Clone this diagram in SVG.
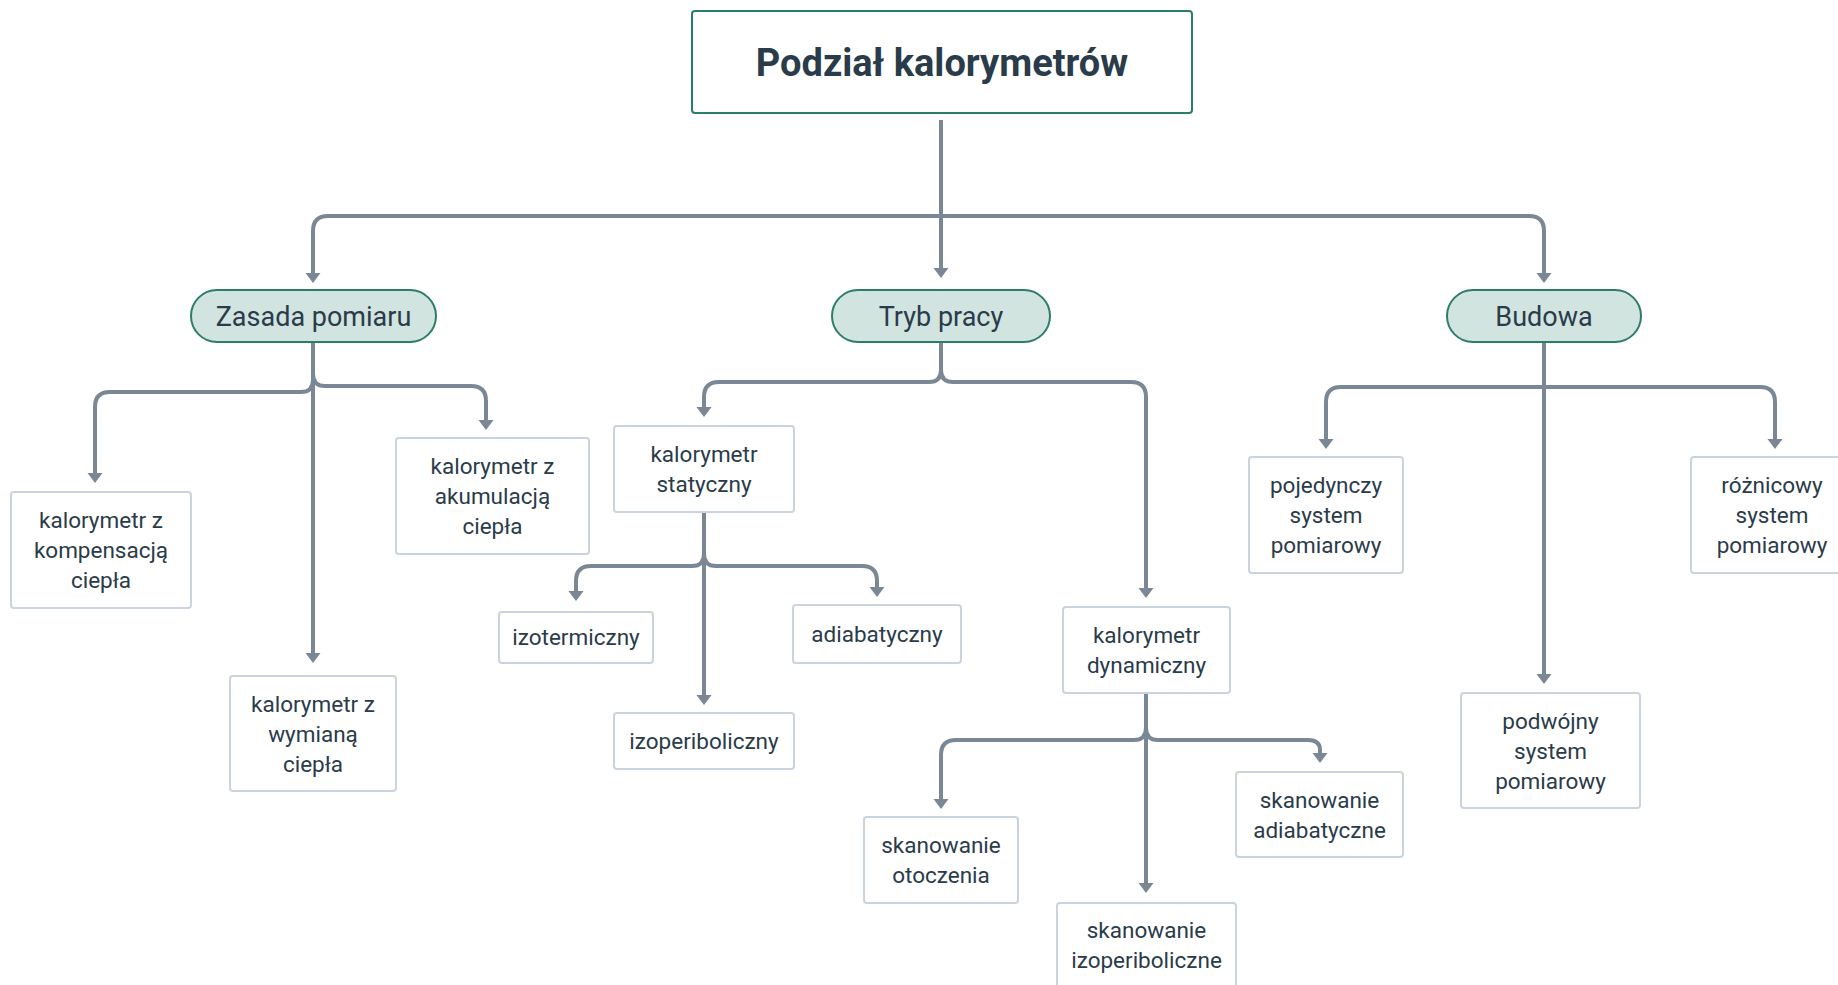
<svg xmlns="http://www.w3.org/2000/svg" width="1838" height="985" viewBox="0 0 1838 985">
<style>
text{font-family:Roboto,"Liberation Sans",Arial,sans-serif;fill:#2a3b4a;text-anchor:middle}
.t{font-size:22.5px}
.p{font-size:27px}
.box{fill:#ffffff;stroke:#c9d4de;stroke-width:2}
.pill{fill:#d1e4e0;stroke:#2b7d69;stroke-width:2}
.root{fill:#ffffff;stroke:#2b7d69;stroke-width:2}
.c{fill:none;stroke:#7a8896;stroke-width:4;marker-end:url(#arr)}
</style>
<defs>
<marker id="arr" markerUnits="userSpaceOnUse" viewBox="0 -8 10 16" refX="2" refY="0" markerWidth="10" markerHeight="16" orient="90">
<path d="M0,-7.5 L10,0 L0,7.5 z" fill="#7a8896"/>
</marker>
</defs>
<rect width="1838" height="985" fill="#ffffff"/>
<g id="connectors">
<path class="c" d="M941 120 V270"/>
<path class="c" d="M941 216 H328 Q313 216 313 231 V275"/>
<path class="c" d="M941 216 H1529 Q1544 216 1544 231 V275"/>
<path class="c" d="M313 342 V380 Q313 392 301 392 H110 Q95 392 95 407 V475"/>
<path class="c" d="M313 342 V655"/>
<path class="c" d="M313 342 V374 Q313 386 325 386 H471 Q486 386 486 401 V422"/>
<path class="c" d="M941 342 V370 Q941 382 929 382 H719 Q704 382 704 397 V409"/>
<path class="c" d="M941 342 V370 Q941 382 953 382 H1131 Q1146 382 1146 397 V590"/>
<path class="c" d="M704 512 V554 Q704 566 692 566 H591 Q576 566 576 581 V593"/>
<path class="c" d="M704 512 V697"/>
<path class="c" d="M704 512 V554 Q704 566 716 566 H862 Q877 566 877 581 V589"/>
<path class="c" d="M1146 693 V728 Q1146 740 1134 740 H956 Q941 740 941 755 V801"/>
<path class="c" d="M1146 693 V885"/>
<path class="c" d="M1146 693 V728 Q1146 740 1158 740 H1308 Q1320 740 1320 750 V755"/>
<path class="c" d="M1544 343 V676"/>
<path class="c" d="M1544 387 H1341 Q1326 387 1326 402 V441"/>
<path class="c" d="M1544 387 H1760 Q1775 387 1775 402 V441"/>
</g>
<g id="root">
<rect class="root" x="692" y="11" width="500" height="102" rx="3"/>
<text x="942" y="76" style="font-size:38px;font-weight:bold">Podział kalorymetrów</text>
</g>
<g id="zasada">
<rect class="pill" x="191" y="290" width="245" height="52" rx="26"/>
<text class="p" x="313.5" y="326">Zasada pomiaru</text>
</g>
<g id="tryb">
<rect class="pill" x="832" y="290" width="218" height="52" rx="26"/>
<text class="p" x="941" y="326">Tryb pracy</text>
</g>
<g id="budowa">
<rect class="pill" x="1447" y="290" width="194" height="52" rx="26"/>
<text class="p" x="1544" y="326">Budowa</text>
</g>
<g id="kompensacja">
<rect class="box" x="11" y="492" width="180" height="116" rx="3"/>
<text class="t" x="101" y="528">kalorymetr z</text>
<text class="t" x="101" y="558">kompensacją</text>
<text class="t" x="101" y="588">ciepła</text>
</g>
<g id="wymiana">
<rect class="box" x="230" y="676" width="166" height="115" rx="3"/>
<text class="t" x="313" y="712">kalorymetr z</text>
<text class="t" x="313" y="742">wymianą</text>
<text class="t" x="313" y="772">ciepła</text>
</g>
<g id="akumulacja">
<rect class="box" x="396" y="438" width="193" height="116" rx="3"/>
<text class="t" x="492.5" y="474">kalorymetr z</text>
<text class="t" x="492.5" y="504">akumulacją</text>
<text class="t" x="492.5" y="534">ciepła</text>
</g>
<g id="statyczny">
<rect class="box" x="614" y="426" width="180" height="86" rx="3"/>
<text class="t" x="704" y="462">kalorymetr</text>
<text class="t" x="704" y="492">statyczny</text>
</g>
<g id="izotermiczny">
<rect class="box" x="499" y="612" width="154" height="51" rx="3"/>
<text class="t" x="576" y="645">izotermiczny</text>
</g>
<g id="adiabatyczny">
<rect class="box" x="793" y="605" width="168" height="58" rx="3"/>
<text class="t" x="877" y="642">adiabatyczny</text>
</g>
<g id="izoperiboliczny">
<rect class="box" x="614" y="713" width="180" height="56" rx="3"/>
<text class="t" x="704" y="749">izoperiboliczny</text>
</g>
<g id="dynamiczny">
<rect class="box" x="1063" y="607" width="167" height="86" rx="3"/>
<text class="t" x="1146.5" y="643">kalorymetr</text>
<text class="t" x="1146.5" y="673">dynamiczny</text>
</g>
<g id="otoczenia">
<rect class="box" x="864" y="817" width="154" height="86" rx="3"/>
<text class="t" x="941" y="853">skanowanie</text>
<text class="t" x="941" y="883">otoczenia</text>
</g>
<g id="adiabatyczne">
<rect class="box" x="1236" y="772" width="167" height="85" rx="3"/>
<text class="t" x="1319.5" y="807.5">skanowanie</text>
<text class="t" x="1319.5" y="837.5">adiabatyczne</text>
</g>
<g id="izoperiboliczne">
<rect class="box" x="1057" y="903" width="179" height="86" rx="3"/>
<text class="t" x="1146.5" y="938">skanowanie</text>
<text class="t" x="1146.5" y="968">izoperiboliczne</text>
</g>
<g id="pojedynczy">
<rect class="box" x="1249" y="457" width="154" height="116" rx="3"/>
<text class="t" x="1326" y="493">pojedynczy</text>
<text class="t" x="1326" y="523">system</text>
<text class="t" x="1326" y="553">pomiarowy</text>
</g>
<g id="roznicowy">
<rect class="box" x="1691" y="457" width="165" height="116" rx="3"/>
<text class="t" x="1772" y="493">różnicowy</text>
<text class="t" x="1772" y="523">system</text>
<text class="t" x="1772" y="553">pomiarowy</text>
</g>
<g id="podwojny">
<rect class="box" x="1461" y="693" width="179" height="115" rx="3"/>
<text class="t" x="1550.5" y="728.5">podwójny</text>
<text class="t" x="1550.5" y="758.5">system</text>
<text class="t" x="1550.5" y="788.5">pomiarowy</text>
</g>
</svg>
